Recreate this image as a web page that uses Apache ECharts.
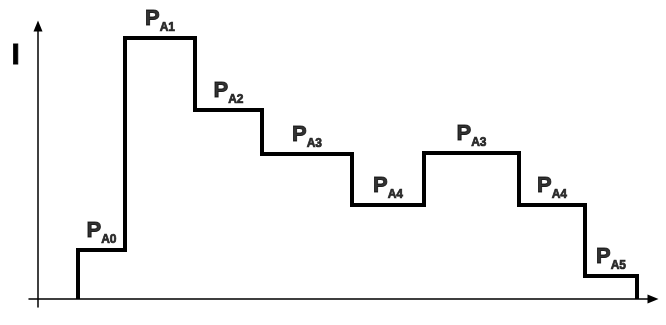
<!DOCTYPE html>
<html>
<head>
<meta charset="utf-8">
<script src="https://cdn.jsdelivr.net/npm/echarts@6/dist/echarts.min.js"></script>
<style>
    html, body { margin: 0; padding: 0; background: #fff; }
    #chart { width: 666px; height: 325px; }
</style>
</head>
<body>
<div id="chart"></div>
<script>
    // step edges on the time axis (start, transitions, end)
    var stepTimes = [40, 87, 157, 224, 314, 386, 481, 547, 599];
    // current level of each phase
    var stepLevels = [49, 261, 189, 145, 94, 146, 94, 23];
    // subscript of each phase label
    var phaseNames = ['A0', 'A1', 'A2', 'A3', 'A4', 'A3', 'A4', 'A5'];

    var FONT = '"Liberation Sans", Arial, sans-serif';

    // corners of the step line
    var linePts = [[stepTimes[0], 0]];
    for (var i = 0; i < stepLevels.length; ++i) {
        linePts.push([stepTimes[i], stepLevels[i]]);
        linePts.push([stepTimes[i + 1], stepLevels[i]]);
    }
    linePts.push([stepTimes[stepTimes.length - 1], 0]);

    // one label on the middle of each phase
    var labelPts = [];
    for (var i = 0; i < stepLevels.length; ++i) {
        labelPts.push({
            value: [(stepTimes[i] + stepTimes[i + 1]) / 2, stepLevels[i]],
            name: phaseNames[i]
        });
    }

    var axisLine = {
        show: true,
        onZero: true,
        symbol: ['none', 'triangle'],
        symbolSize: [9, 11],
        lineStyle: { color: '#000', width: 1.5 }
    };

    var option = {
        animation: false,
        backgroundColor: '#fff',
        grid: { left: 29, right: 13, top: 26, bottom: 18 },
        xAxis: {
            type: 'value',
            min: -9,
            max: 615,
            axisLine: axisLine,
            axisTick: { show: false },
            axisLabel: { show: false },
            splitLine: { show: false }
        },
        yAxis: {
            type: 'value',
            min: -8,
            max: 273,
            axisLine: axisLine,
            axisTick: { show: false },
            axisLabel: { show: false },
            splitLine: { show: false }
        },
        graphic: [{
            type: 'text',
            left: 11,
            top: 40,
            style: {
                text: 'I', font: 'bold 30px ' + FONT, fill: '#000',
                stroke: '#000', lineWidth: 0.8
            }
        }],
        series: [{
            type: 'line',
            data: linePts,
            symbol: 'none',
            lineStyle: { color: '#000', width: 4, join: 'miter', cap: 'butt' }
        }, {
            type: 'scatter',
            data: labelPts,
            symbolSize: 1,
            itemStyle: { color: 'transparent' },
            label: {
                show: true,
                position: 'top',
                distance: 4,
                formatter: function (p) { return '{p|P}{s|' + p.name + '}'; },
                rich: {
                    p: {
                        fontFamily: FONT, fontWeight: 'bold', fontSize: 22, lineHeight: 30, color: '#000',
                        textBorderColor: '#000', textBorderWidth: 0.9
                    },
                    s: {
                        fontFamily: FONT, fontWeight: 'bold', fontSize: 12, lineHeight: 12, color: '#000',
                        textBorderColor: '#000', textBorderWidth: 0.7, verticalAlign: 'bottom'
                    }
                }
            }
        }]
    };

    var chart = echarts.init(document.getElementById('chart'));
    chart.setOption(option);
</script>
</body>
</html>
